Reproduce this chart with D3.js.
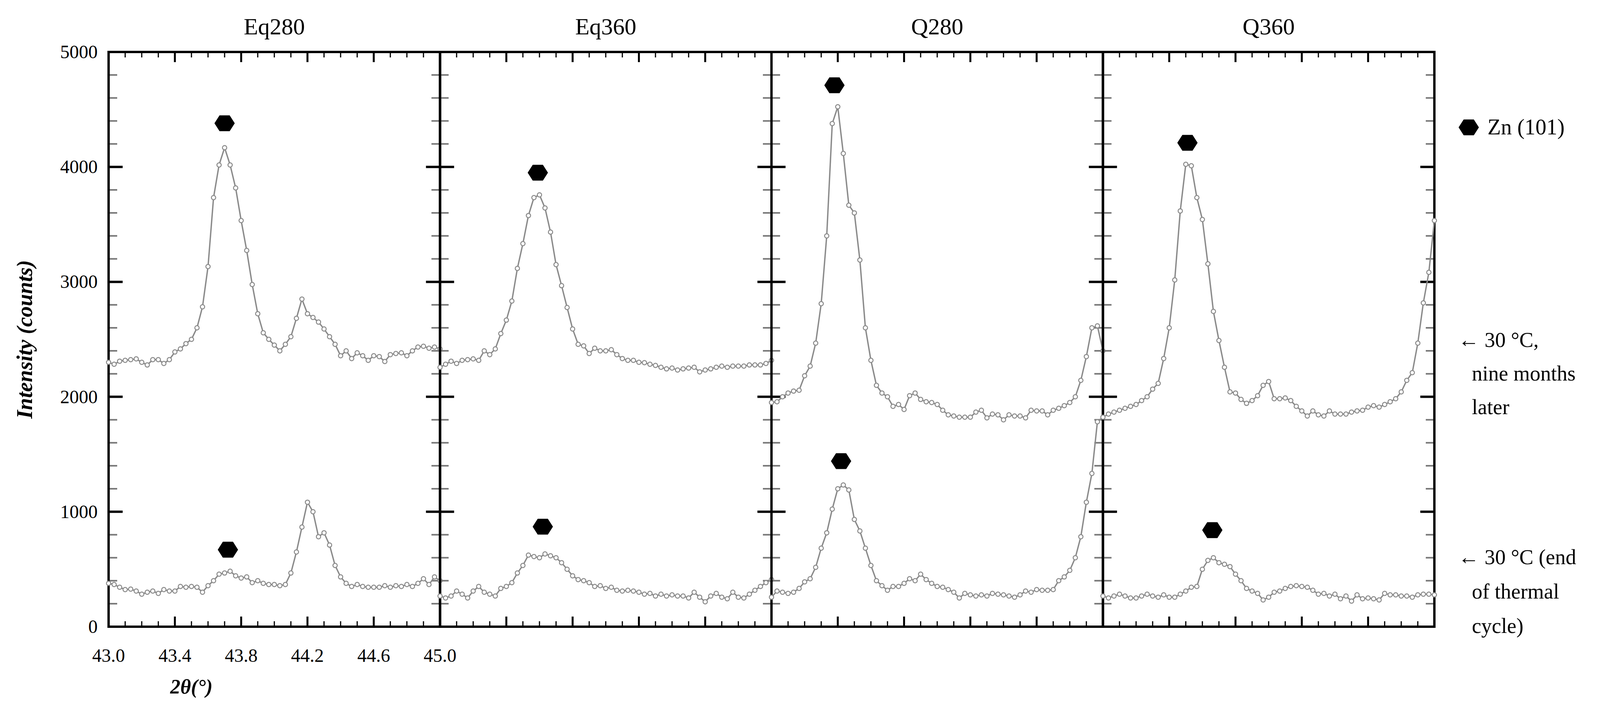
<!DOCTYPE html>
<html><head><meta charset="utf-8">
<script src="https://cdn.jsdelivr.net/npm/d3@7"></script>
<style>body{margin:0;background:#fff}</style></head>
<body><svg id="c" width="4157" height="1830"></svg>
<script>
const panels = ["Eq280","Eq360","Q280","Q360"];
const xStart = 43.0, xStep = 1/30;
const eq280Top = [2300,2283,2310,2317,2323,2330,2300,2277,2323,2323,2290,2323,2390,2417,2463,2500,2600,2783,3133,3733,4017,4167,4017,3817,3533,3273,2977,2723,2557,2500,2450,2400,2457,2523,2683,2850,2723,2690,2650,2590,2523,2457,2357,2400,2333,2383,2357,2317,2357,2350,2307,2367,2377,2383,2357,2400,2433,2440,2423,2433,2417];
const eq280Bot = [377,367,343,323,327,310,283,300,310,290,323,310,310,350,343,350,343,300,357,400,457,467,483,443,423,433,383,400,377,367,367,357,367,467,650,867,1083,1000,783,817,710,533,433,377,350,367,350,343,343,343,357,343,357,350,367,350,377,417,367,433,400];
const eq360Top = [2257,2283,2310,2290,2317,2323,2330,2317,2400,2367,2417,2550,2667,2833,3117,3333,3577,3733,3757,3643,3433,3150,2967,2777,2590,2457,2443,2377,2423,2400,2400,2410,2367,2333,2317,2317,2300,2297,2283,2273,2257,2243,2250,2233,2243,2250,2257,2217,2233,2243,2257,2267,2257,2267,2267,2267,2277,2277,2277,2290,2317];
const eq360Bot = [267,250,267,310,283,250,310,350,300,283,267,333,350,383,467,533,623,610,600,633,617,600,557,500,443,410,400,383,350,357,333,343,317,310,317,310,300,283,290,267,283,267,277,267,267,250,300,257,217,267,290,257,243,300,257,250,283,317,350,383,410];
const q280Top = [1950,1957,2000,2033,2050,2057,2183,2267,2467,2810,3400,4377,4523,4117,3667,3600,3190,2600,2317,2100,2033,2000,1917,1933,1890,2010,2033,1977,1957,1950,1933,1883,1843,1833,1823,1823,1823,1867,1883,1817,1850,1843,1800,1843,1833,1833,1817,1883,1877,1877,1843,1883,1900,1923,1950,2000,2143,2350,2600,2617,2400];
const q280Bot = [257,310,300,290,300,333,390,417,517,683,817,1023,1200,1233,1190,933,833,683,533,400,357,317,350,350,377,417,400,457,410,377,350,343,323,300,250,290,277,267,277,267,290,283,277,267,257,277,310,300,323,317,317,323,400,433,490,600,783,1083,1333,1783,1823];
const q360Top = [1823,1850,1867,1883,1900,1917,1933,1967,2000,2067,2117,2333,2600,3017,3617,4023,4010,3733,3543,3157,2743,2490,2257,2043,2033,1977,1943,1967,2010,2100,2133,1983,1983,1990,1967,1917,1877,1833,1877,1843,1833,1877,1850,1850,1850,1867,1877,1883,1910,1923,1910,1933,1957,1983,2043,2143,2210,2467,2817,3083,3533];
const q360Bot = [267,250,267,283,267,250,250,267,283,267,257,277,257,257,283,310,343,350,500,577,600,557,543,523,457,400,333,310,290,233,257,300,310,333,350,357,350,343,317,283,290,267,283,243,267,223,277,243,250,243,233,290,277,277,267,267,257,277,283,283,277];
const topSeries = [eq280Top, eq360Top, q280Top, q360Top];
const botSeries = [eq280Bot, eq360Bot, q280Bot, q360Bot];
const markTopX = [43.70, 43.59, 43.38, 43.51], markTopY = [4380, 3950, 4710, 4210];
const markBotX = [43.72, 43.62, 43.42, 43.66], markBotY = [670, 870, 1440, 840];
const xTicks = [43.0, 43.4, 43.8, 44.2, 44.6, 45.0];
const yTicks = [0, 1000, 2000, 3000, 4000, 5000];

const svg = d3.select("#c");
const F = "'Liberation Serif','Times New Roman',serif";
const L = 278, W = 848.5, T = 133, B = 1604;
const y = d3.scaleLinear().domain([0, 5000]).range([B, T]);

panels.forEach((name, p) => {
  const x0 = L + p * W;
  const x = d3.scaleLinear().domain([43, 45]).range([x0, x0 + W]);
  const g = svg.append("g");
  // minor y ticks
  d3.range(0, 5001, 200).forEach(v => {
    const major = v % 1000 === 0;
    const len = major ? 36 : 22;
    const col = major ? "#000" : "#777";
    const sw = major ? 6 : 4;
    g.append("line").attr("x1", x0).attr("x2", x0 + len).attr("y1", y(v)).attr("y2", y(v)).attr("stroke", col).attr("stroke-width", sw);
    g.append("line").attr("x1", x0 + W).attr("x2", x0 + W - len).attr("y1", y(v)).attr("y2", y(v)).attr("stroke", col).attr("stroke-width", sw);
  });
  d3.range(0, 21).forEach(k => {
    const v = 43 + k * 0.1;
    const major = k % 4 === 0;
    const len = major ? 26 : 14;
    g.append("line").attr("x1", x(v)).attr("x2", x(v)).attr("y1", B).attr("y2", B - len).attr("stroke", "#000").attr("stroke-width", major ? 5 : 3);
    g.append("line").attr("x1", x(v)).attr("x2", x(v)).attr("y1", T).attr("y2", T + len).attr("stroke", "#000").attr("stroke-width", major ? 5 : 3);
  });
  g.append("rect").attr("x", x0).attr("y", T).attr("width", W).attr("height", B - T).attr("fill", "none").attr("stroke", "#000").attr("stroke-width", 6);
  g.append("text").attr("x", x0 + W / 2).attr("y", 88).attr("text-anchor", "middle").attr("font-family", F).attr("font-size", 60).text(name);

  [topSeries[p], botSeries[p]].forEach(s => {
    const pts = s.map((v, i) => [xStart + i * xStep, v]);
    const line = d3.line().x(d => x(d[0])).y(d => y(d[1]));
    g.append("path").attr("d", line(pts)).attr("fill", "none").attr("stroke", "#8a8a8a").attr("stroke-width", 3.5);
    g.selectAll(null).data(pts).enter().append("circle").attr("cx", d => x(d[0])).attr("cy", d => y(d[1])).attr("r", 5.5)
      .attr("fill", "#fff").attr("stroke", "#8a8a8a").attr("stroke-width", 2.5);
  });
  const hex = (cx, cy) => {
    const r = 26;
    const pts = d3.range(6).map(k => [cx + r * Math.cos(k * Math.PI / 3), cy + r * 0.9 * Math.sin(k * Math.PI / 3)]);
    g.append("polygon").attr("points", pts.map(d => d.join(",")).join(" ")).attr("fill", "#000");
  };
  hex(x(markTopX[p]), y(markTopY[p]));
  hex(x(markBotX[p]), y(markBotY[p]));
  if (p === 0) {
    xTicks.forEach(v => g.append("text").attr("x", x(v)).attr("y", 1694).attr("text-anchor", "middle").attr("font-family", F).attr("font-size", 48).text(v.toFixed(1)));
  }
});
yTicks.forEach(v => svg.append("text").attr("x", 250).attr("y", y(v) + 16).attr("text-anchor", "end").attr("font-family", F).attr("font-size", 48).text(v));
svg.append("text").attr("transform", `translate(82,${(T + B) / 2}) rotate(-90)`).attr("text-anchor", "middle")
  .attr("font-family", F).attr("font-size", 56).attr("font-weight", "bold").attr("font-style", "italic").text("Intensity (counts)");
svg.append("text").attr("x", 490).attr("y", 1775).attr("text-anchor", "middle").attr("font-family", F).attr("font-size", 52)
  .attr("font-weight", "bold").attr("font-style", "italic").text("2θ(°)");
// legend
{
  const cx = 3760, cy = 326, r = 26;
  const pts = d3.range(6).map(k => [cx + r * Math.cos(k * Math.PI / 3), cy + r * 0.9 * Math.sin(k * Math.PI / 3)]);
  svg.append("polygon").attr("points", pts.map(d => d.join(",")).join(" ")).attr("fill", "#000");
  svg.append("text").attr("x", 3808).attr("y", 344).attr("font-family", F).attr("font-size", 56).text("Zn (101)");
}
const ann1 = ["← 30 °C,", "nine months", "later"];
const ann2 = ["← 30 °C (end", "of thermal", "cycle)"];
ann1.forEach((t, i) => svg.append("text").attr("x", i ? 3768 : 3733).attr("y", 888 + i * 86).attr("font-family", F).attr("font-size", 54).text(t));
ann2.forEach((t, i) => svg.append("text").attr("x", i ? 3768 : 3733).attr("y", 1444 + i * 88).attr("font-family", F).attr("font-size", 54).text(t));
</script></body></html>
